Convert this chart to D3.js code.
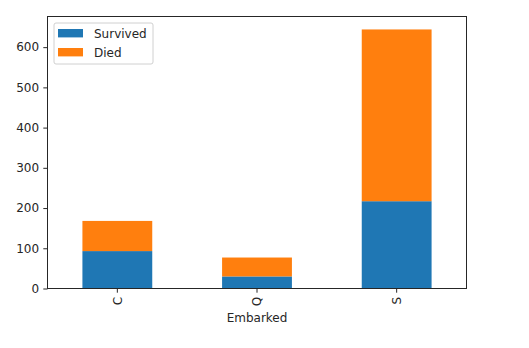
<!DOCTYPE html>
<html>
<head>
<meta charset="utf-8">
<script src="https://cdn.jsdelivr.net/npm/d3@7"></script>
<style>
  body { margin: 0; background: #fff; }
  svg { display: block; font-family: "DejaVu Sans", sans-serif; }
</style>
</head>
<body>
<svg id="chart" width="529" height="348"></svg>
<script>
// Titanic passengers by port of embarkation
const categories = ["C", "Q", "S"];
const survived = [93, 30, 217];
const died = [75, 47, 427];
const seriesNames = ["Survived", "Died"];
const seriesColors = ["#1f77b4", "#ff7f0e"];
const yTicks = [0, 100, 200, 300, 400, 500, 600];

const FS = 12;
const svg = d3.select("#chart");
const margin = { left: 47.5, right: 62.5, top: 16.5, bottom: 59.5 };
const W = 529, H = 348;
const iw = W - margin.left - margin.right;
const ih = H - margin.top - margin.bottom;

const rows = categories.map((c, i) => ({ cat: c, Survived: survived[i], Died: died[i] }));
const stack = d3.stack().keys(seriesNames)(rows);

const maxTotal = d3.max(rows, d => d.Survived + d.Died);
const x = d3.scaleBand().domain(categories).range([0, iw]).paddingInner(0.5).paddingOuter(0.25);
const y = d3.scaleLinear().domain([0, maxTotal * 1.05]).range([ih, 0]);

const g = svg.append("g").attr("transform", `translate(${margin.left},${margin.top})`);

// stacked bars
g.selectAll("g.series")
  .data(stack)
  .join("g")
  .attr("class", "series")
  .attr("fill", (d, i) => seriesColors[i])
  .selectAll("rect")
  .data(d => d)
  .join("rect")
  .attr("x", d => x(d.data.cat))
  .attr("width", x.bandwidth())
  .attr("y", d => y(d[1]))
  .attr("height", d => y(d[0]) - y(d[1]));

// y axis
const yAxis = g.append("g").call(d3.axisLeft(y).tickValues(yTicks).tickSize(4.2).tickPadding(4.2));
// x axis with rotated labels
const xAxis = g.append("g").attr("transform", `translate(0,${ih})`)
  .call(d3.axisBottom(x).tickSize(4.2).tickPadding(4.2));
xAxis.selectAll("text")
  .attr("transform", "rotate(-90)")
  .attr("text-anchor", "end")
  .attr("dy", "0.35em")
  .attr("x", -8.4)
  .attr("y", 0);

[yAxis, xAxis].forEach(a => {
  a.select(".domain").remove();
  a.selectAll("text").attr("font-size", FS).attr("fill", "#262626").attr("font-family", "DejaVu Sans, sans-serif");
  a.selectAll("line").attr("stroke", "#262626").attr("stroke-width", 1);
});

// frame
g.append("rect")
  .attr("width", iw).attr("height", ih)
  .attr("fill", "none").attr("stroke", "#262626").attr("stroke-width", 1);

// x axis title
g.append("text")
  .attr("x", iw / 2).attr("y", ih + 33)
  .attr("text-anchor", "middle")
  .attr("font-size", FS).attr("fill", "#262626")
  .text("Embarked");

// legend
const lg = g.append("g").attr("transform", "translate(6.5,6.5)");
lg.append("rect")
  .attr("width", 99).attr("height", 41).attr("rx", 2)
  .attr("fill", "#fff").attr("fill-opacity", 0.8)
  .attr("stroke", "#d0d0d0").attr("stroke-width", 1);
seriesNames.forEach((name, i) => {
  const row = lg.append("g").attr("transform", `translate(4,${6 + i * 19})`);
  row.append("rect").attr("width", 25).attr("height", 8.4).attr("fill", seriesColors[i]);
  row.append("text").attr("x", 36).attr("y", 8.8)
    .attr("font-size", FS).attr("fill", "#262626").text(name);
});
</script>
</body>
</html>
